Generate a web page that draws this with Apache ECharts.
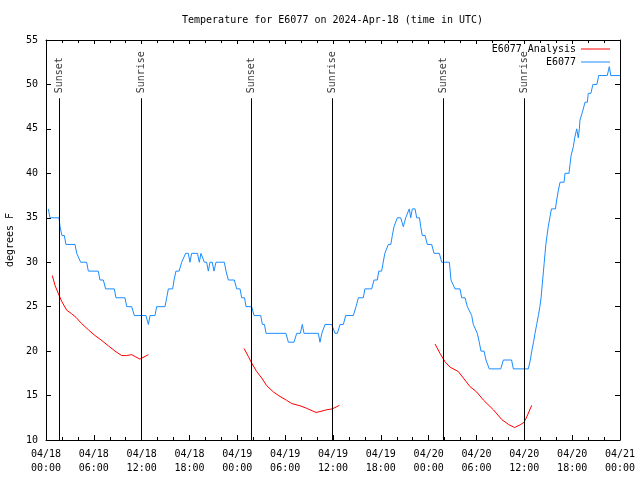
<!DOCTYPE html>
<html>
<head>
<meta charset="utf-8">
<script src="https://cdn.jsdelivr.net/npm/echarts@6/dist/echarts.min.js"></script>
<style>html,body{margin:0;padding:0;background:#fff}#c{width:640px;height:480px}</style>
</head>
<body>
<div id="c"></div>
<script>
// ---- text ----
const titleText = 'Temperature for E6077 on 2024-Apr-18 (time in UTC)';
const yAxisName = 'degrees F';
const stationName = 'E6077';
const analysisName = 'E6077 Analysis';
// x axis: hours since 2024-04-18 00:00 UTC, one tick every 6 hours
const xTickLabels = ['04/18\n00:00','04/18\n06:00','04/18\n12:00','04/18\n18:00',
  '04/19\n00:00','04/19\n06:00','04/19\n12:00','04/19\n18:00',
  '04/20\n00:00','04/20\n06:00','04/20\n12:00','04/20\n18:00','04/21\n00:00'];

// ---- observed station temperature [hour, degF] ----
const stationData = [
  [0.29,36],[0.5,35],[1.63,35],[1.76,34],[1.85,34],[2.0,33],[2.3,33],[2.5,32],[3.64,32],[3.85,31],[4.05,31],
  [4.35,30],[5.1,30],[5.31,29],[6.56,29],[6.77,28],[7.19,28],[7.48,27],[8.57,27],[8.78,26],[9.91,26],
  [10.12,25],[10.75,25],[11.08,24],[12.54,24],[12.84,23],[13.05,24],[13.67,24],[13.88,25],[14.93,25],
  [15.14,26],[15.35,27],[15.89,27],[16.06,28],[16.3,29],[16.7,29],[17.02,30],[17.2,30],[17.52,31],
  [17.85,31],[18.06,30],[18.27,31],[19.0,31],[19.23,30],[19.44,31],[19.65,31],[19.86,30],[20.15,30],
  [20.36,29],[20.57,30],[20.85,30],[21.07,29],[21.32,30],[22.37,30],[22.58,29],[22.87,28],[23.62,28],
  [23.92,27],[24.34,27],[24.55,26],[24.9,26],[25.09,25],[25.8,25],[26.1,24],[26.93,24],[27.14,23],
  [27.4,23],[27.6,22],[30.1,22],[30.4,21],[31.1,21],[31.45,22],[31.9,22],[32.15,23],[32.36,22],
  [34.16,22],[34.37,21],[34.6,22],[35.0,23],[35.84,23],[36.25,22],[36.55,22],[36.88,23],[37.3,23],
  [37.59,24],[38.55,24],[38.89,25],[39.18,26],[39.8,26],[40.0,27],[40.85,27],[41.15,28],[41.55,28],
  [41.75,29],[42.1,29],[42.3,30],[42.5,31],[42.75,31],[42.94,32],[43.25,32],[43.44,33],[43.65,34],
  [43.9,34],[44.07,35],[44.49,35],[44.82,34],[45.12,35],[45.35,35],[45.57,36],[45.75,35],[45.95,36],
  [46.29,36],[46.5,35],[46.85,35],[47.0,34],[47.2,33],[47.55,33],[47.83,32],[48.38,32],[48.67,31],
  [49.34,31],[49.63,30],[50.59,30],[50.7,29],[50.8,28],[51.0,28],[51.3,27],[51.93,27],[52.14,26],
  [52.56,26],[52.85,25],[53.1,25],[53.4,24],[53.6,23],[53.85,23],[54.1,22],[54.35,21],[54.56,20],
  [54.95,20],[55.19,19],[55.4,19],[55.6,18],[57.04,18],[57.37,19],[58.4,19],[58.62,18],[60.08,18],
  [60.5,18],[60.75,19],[60.93,20],[61.15,21],[61.34,22],[61.55,23],[61.76,24],[61.95,25],[62.1,26],
  [62.2,27],[62.3,28],[62.4,29],[62.5,30],[62.6,31],[62.7,32],[62.85,33],[63.0,34],[63.2,35],
  [63.4,36],[63.9,36],[64.06,37],[64.25,38],[64.48,39],[64.98,39],[65.1,40],[65.6,40],[65.73,41],
  [65.86,42],[66.0,42],[66.15,43],[66.32,44],[66.57,45],[66.77,44],[66.9,45],[66.98,46],[67.2,46],
  [67.32,47],[67.5,47],[67.61,48],[67.9,48],[68.02,49],[68.35,49],[68.6,50],[69.1,50],[69.33,51],
  [70.4,51],[70.66,52],[70.84,51],[72.0,51]
];

// ---- analysis [hour, degF], three nightly segments ----
const analysisNight1 = [
  [0.79,28.5],[1.13,27.4],[1.63,26.3],[1.97,25.6],[2.6,24.6],[3.22,24.2],[3.76,23.8],[4.47,23.1],
  [5.31,22.4],[6.15,21.75],[6.98,21.2],[7.82,20.6],[8.66,20.0],[9.49,19.5],[10.12,19.5],[10.75,19.6],
  [11.16,19.4],[11.79,19.1],[12.0,19.05],[12.42,19.4],[12.84,19.6]
];
const analysisNight2 = [
  [24.84,20.3],[25.38,19.4],[25.8,18.65],[26.43,17.7],[27.06,16.97],[27.69,16.1],[28.53,15.4],
  [29.35,14.9],[30.19,14.46],[30.82,14.1],[31.86,13.85],[32.7,13.56],[33.87,13.1],[34.37,13.2],
  [35.2,13.4],[35.91,13.5],[36.47,13.75],[36.8,13.9]
];
const analysisNight3 = [
  [48.8,20.8],[49.42,19.75],[50.05,18.8],[50.68,18.2],[51.72,17.7],[52.35,16.97],[53.19,16.0],
  [54.03,15.4],[54.86,14.5],[56.12,13.4],[57.17,12.3],[58.0,11.76],[58.76,11.4],[59.47,11.7],
  [59.97,12.0],[60.3,12.6],[60.93,13.9]
];

// ---- sunrise / sunset markers (hour) ----
const sunTimes = [1.72, 11.92, 25.72, 35.95, 49.82, 60.02];
const sunLabels = ['Sunset','Sunrise','Sunset','Sunrise','Sunset','Sunrise'];

// ---- build options ----
const FONT = 'DejaVu Sans Mono';
const Y_MIN = 10, Y_MAX = 55;
const sunLineTop = 48.45;
const sunLabelY = 49.0;

const analysisData = analysisNight1.concat([[null, null]], analysisNight2, [[null, null]], analysisNight3);

const tickCommon = {
  axisLine: { show: true, onZero: false, lineStyle: { color: '#000', width: 1 } },
  splitLine: { show: false },
  minorSplitLine: { show: false }
};

const legendCommon = {
  right: 30, padding: 0, align: 'right', orient: 'vertical',
  icon: 'rect', itemWidth: 29, itemHeight: 1, selectedMode: false,
  textStyle: { fontFamily: FONT, fontSize: 10, color: '#000' }
};

const option = {
  animation: false,
  backgroundColor: '#fff',
  title: {
    text: titleText, left: 182, top: 15, padding: 0,
    textStyle: { fontFamily: FONT, fontSize: 10, fontWeight: 'normal', color: '#000' }
  },
  grid: { left: 46, right: 20, top: 40, bottom: 40, containLabel: false, outerBoundsMode: 'none' },
  legend: [
    Object.assign({ data: [analysisName], top: 44 }, legendCommon),
    Object.assign({ data: [stationName], top: 57 }, legendCommon)
  ],
  xAxis: [
    Object.assign({
      type: 'value', min: 0, max: 72, interval: 6, position: 'bottom',
      axisTick: { show: true, inside: true, length: 5, lineStyle: { color: '#000' } },
      minorTick: { show: true, splitNumber: 3, length: 3, lineStyle: { color: '#000' } },
      axisLabel: {
        formatter: v => xTickLabels[Math.round(v / 6)] || '',
        fontFamily: FONT, fontSize: 10, lineHeight: 14, color: '#000', margin: 7
      }
    }, tickCommon),
    Object.assign({
      type: 'value', min: 0, max: 72, interval: 6, position: 'top',
      axisTick: { show: true, inside: true, length: 4, lineStyle: { color: '#000' } },
      minorTick: { show: true, splitNumber: 3, length: 3, lineStyle: { color: '#000' } },
      axisLabel: { show: false }
    }, tickCommon)
  ],
  yAxis: [
    Object.assign({
      type: 'value', min: Y_MIN, max: Y_MAX, interval: 5, position: 'left',
      axisTick: { show: true, inside: true, length: 5, lineStyle: { color: '#000' } },
      axisLabel: { fontFamily: FONT, fontSize: 10, color: '#000', margin: 8 },
      name: yAxisName, nameLocation: 'middle', nameRotate: 90, nameGap: 31,
      nameTextStyle: { fontFamily: FONT, fontSize: 10, color: '#000' }
    }, tickCommon),
    Object.assign({
      type: 'value', min: Y_MIN, max: Y_MAX, interval: 5, position: 'right',
      axisTick: { show: true, inside: true, length: 5, lineStyle: { color: '#000' } },
      axisLabel: { show: false }
    }, tickCommon)
  ],
  series: [
    {
      name: analysisName, type: 'line', data: analysisData, connectNulls: false,
      symbol: 'none', color: '#ff0000', lineStyle: { width: 1, color: '#ff0000' }, z: 3
    },
    {
      name: stationName, type: 'line', data: stationData,
      symbol: 'none', color: '#1a8cff', lineStyle: { width: 1, color: '#1a8cff' }, z: 3
    },
    {
      name: 'sun', type: 'scatter', symbolSize: 0, z: 2, silent: true,
      data: sunTimes.map((t, i) => ({ value: [t, sunLabelY], name: sunLabels[i] })),
      label: {
        show: true, position: 'inside', formatter: '{b}', rotate: 90,
        align: 'left', verticalAlign: 'middle',
        fontFamily: FONT, fontSize: 10, color: '#000'
      },
      markLine: {
        silent: true, symbol: ['none', 'none'],
        lineStyle: { color: '#000', width: 1, type: 'solid' },
        label: { show: false },
        data: sunTimes.map(t => [{ coord: [t, Y_MIN] }, { coord: [t, sunLineTop] }])
      }
    }
  ]
};

const chart = echarts.init(document.getElementById('c'), null, { renderer: 'canvas' });
chart.setOption(option);
</script>
</body>
</html>
